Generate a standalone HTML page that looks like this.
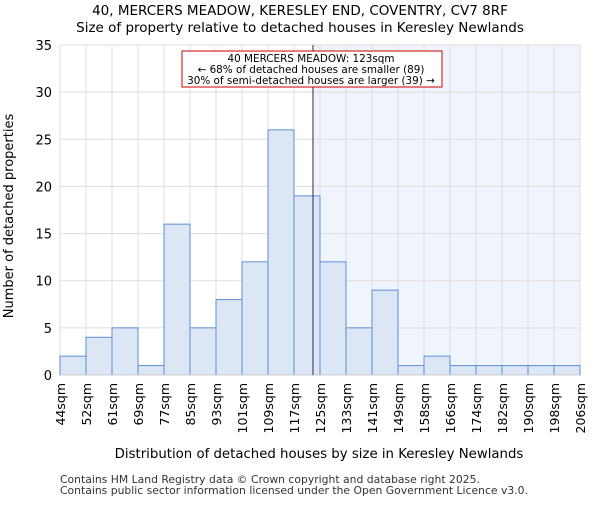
<!DOCTYPE html>
<html><head><meta charset="utf-8"><style>body{margin:0;background:#fff}svg{font-family:"DejaVu Sans","Liberation Sans",sans-serif}</style></head>
<body>
<svg id="c" width="600" height="500" xmlns="http://www.w3.org/2000/svg">
<text x="300" y="15" text-anchor="middle" font-size="13.5">40, MERCERS MEADOW, KERESLEY END, COVENTRY, CV7 8RF</text>
<text x="300" y="32" text-anchor="middle" font-size="13.5">Size of property relative to detached houses in Keresley Newlands</text>
<g id="plot"></g>
<text x="319" y="458" text-anchor="middle" font-size="13.3">Distribution of detached houses by size in Keresley Newlands</text>
<text transform="translate(13,216) rotate(-90)" text-anchor="middle" font-size="13">Number of detached properties</text>
<text x="60" y="483" font-size="10.8" fill="#333">Contains HM Land Registry data © Crown copyright and database right 2025.</text>
<text x="60" y="494" font-size="10.8" fill="#333">Contains public sector information licensed under the Open Government Licence v3.0.</text>
</svg>
<script>
const labels=["44sqm","52sqm","61sqm","69sqm","77sqm","85sqm","93sqm","101sqm","109sqm","117sqm","125sqm","133sqm","141sqm","149sqm","158sqm","166sqm","174sqm","182sqm","190sqm","198sqm","206sqm"];
const counts=[2,4,5,1,16,5,8,12,26,19,12,5,9,1,2,1,1,1,1,1];
const yTicks=[0,5,10,15,20,25,30,35];
const markerBin=9.73;
const NS="http://www.w3.org/2000/svg";
const L=60,R=580,T=45,B=375,yMax=35;
const n=counts.length,bw=(R-L)/n;
const x=i=>L+i*bw, y=v=>B-(B-T)*v/yMax;
const g=document.getElementById('plot');
function mk(t,a){const e=document.createElementNS(NS,t);for(const k in a)e.setAttribute(k,a[k]);g.appendChild(e);return e;}
let e;
const mx=x(markerBin);
e=mk('rect',{x:mx,y:T,width:R-mx,height:B-T,fill:'#f0f4fc'});


yTicks.forEach(t=>{e=mk('line',{x1:L,x2:R,y1:y(t),y2:y(t),stroke:'#ddd'});


e=mk('text',{x:L-8,y:y(t)+5,'text-anchor':'end','font-size':'13'});e.textContent=t;

});
labels.forEach((l,i)=>{e=mk('line',{x1:x(i),x2:x(i),y1:T,y2:B,stroke:'#ddd'});


e=mk('text',{transform:`translate(${x(i)+5},${B+8}) rotate(-90)`,'text-anchor':'end','font-size':'12.5'});e.textContent=l;

});
counts.forEach((c,i)=>{e=mk('rect',{x:x(i),y:y(c),width:bw,height:B-y(c),fill:'#dce6f4',stroke:'#5b8fd8','stroke-width':1});

});
e=mk('line',{x1:L,x2:R,y1:B,y2:B,stroke:'#ccc'});


e=mk('line',{x1:mx,x2:mx,y1:T,y2:B,stroke:'#2a2a50','stroke-width':1});


e=mk('rect',{x:182,y:51,width:260,height:36,fill:'#fff',stroke:'#c00','stroke-width':1});


["40 MERCERS MEADOW: 123sqm","← 68% of detached houses are smaller (89)","30% of semi-detached houses are larger (39) →"].forEach((s,i)=>{
e=mk('text',{x:311,y:62+i*11,'text-anchor':'middle','font-size':'10.4'});e.textContent=s;

});
</script>
</body></html>
